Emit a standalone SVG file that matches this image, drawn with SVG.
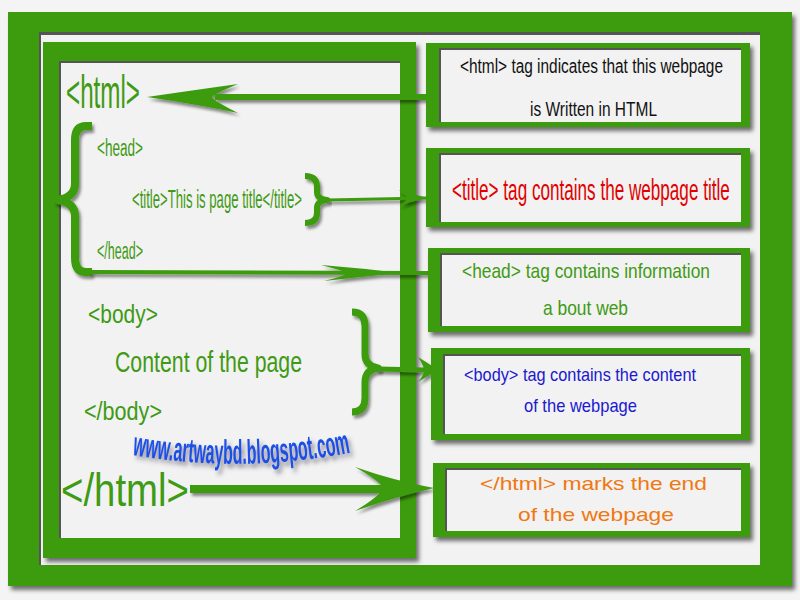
<svg xmlns="http://www.w3.org/2000/svg" width="800" height="600" viewBox="0 0 800 600">
<defs>
<filter id="sh" x="-10%" y="-10%" width="130%" height="130%"><feDropShadow dx="3" dy="4" stdDeviation="2" flood-color="#000" flood-opacity="0.55"/></filter>
<filter id="shs" x="-10%" y="-30%" width="130%" height="180%"><feDropShadow dx="2" dy="3" stdDeviation="1.5" flood-color="#000" flood-opacity="0.45"/></filter>
<filter id="wsh" x="-10%" y="-30%" width="130%" height="180%"><feDropShadow dx="3" dy="4" stdDeviation="2" flood-color="#445" flood-opacity="0.6"/></filter>
<path id="wm" d="M132,455 Q242,474 354,452"/>
</defs>
<style>
.g{fill:#3d9c0f}
.lt{fill:#f2f2f2}
.in{fill:#555}
.t{font-family:"Liberation Sans Narrow","Liberation Sans",Arial,sans-serif}
.tg{fill:#3f9a14}
.br{fill:none;stroke:#3d9c0f;stroke-linecap:butt;stroke-linejoin:round}
.ln{stroke:#3d9c0f;fill:none}
</style>
<rect width="800" height="600" fill="#f4f4f4"/>

<g id="frame">
<rect class="g" x="8" y="12" width="784" height="574" filter="url(#sh)"/>
<rect class="in" x="39" y="32" width="721" height="533"/>
<rect class="lt" x="41" y="35" width="719" height="530"/>
</g>

<g id="left-panel">
<rect class="g" x="43" y="42" width="373" height="516" filter="url(#sh)"/>
<rect class="in" x="59" y="61" width="341" height="477"/>
<rect class="lt" x="61" y="63" width="339" height="475"/>
<text class="t tg" x="66" y="108" font-size="46" textLength="74" lengthAdjust="spacingAndGlyphs">&lt;html&gt;</text>
<text class="t tg" x="97" y="156" font-size="23" textLength="46" lengthAdjust="spacingAndGlyphs">&lt;head&gt;</text>
<text class="t tg" x="132" y="208" font-size="25" textLength="170" lengthAdjust="spacingAndGlyphs">&lt;title&gt;This is page title&lt;/title&gt;</text>
<text class="t tg" x="97" y="259" font-size="23" textLength="46" lengthAdjust="spacingAndGlyphs">&lt;/head&gt;</text>
<text class="t tg" x="88" y="323" font-size="25" textLength="70" lengthAdjust="spacingAndGlyphs">&lt;body&gt;</text>
<text class="t tg" x="115" y="372" font-size="29" textLength="187" lengthAdjust="spacingAndGlyphs">Content of the page</text>
<text class="t tg" x="84" y="420" font-size="25" textLength="78" lengthAdjust="spacingAndGlyphs">&lt;/body&gt;</text>
<text class="t tg" x="61" y="506" font-size="46" textLength="128" lengthAdjust="spacingAndGlyphs">&lt;/html&gt;</text>
<text class="t" font-size="34" font-weight="bold" fill="#1a4fe6" filter="url(#wsh)"><textPath href="#wm" textLength="220" lengthAdjust="spacingAndGlyphs">www.artwaybd.blogspot.com</textPath></text>
</g>

<g id="connectors">
<path class="br" stroke-width="8" d="M92,126 L86,126 Q75,126 75,140 L75,184 Q75,197 58,200 Q75,203 75,216 L75,258 Q75,272 86,272 L92,272" filter="url(#shs)"/>
<path class="br" stroke-width="6" d="M305,176 Q317,176 317,187 L317,192 Q317,199 327,200 Q317,201 317,208 L317,213 Q317,223 305,223" filter="url(#shs)"/>
<path class="br" stroke-width="7" d="M352,312 Q365,312 365,326 L365,354 Q365,366 378,368 Q365,370 365,382 L365,398 Q365,412 352,412" filter="url(#shs)"/>
<g filter="url(#shs)">
<line class="ln" x1="215" y1="97" x2="430" y2="97" stroke-width="6"/>
<path class="g" d="M147,97 Q195,90 238,84 Q214,94 212,97 Q214,101 238,113 Q195,104 147,97 Z"/>
<line class="ln" x1="90" y1="272" x2="428" y2="273" stroke-width="4"/>
<path class="g" d="M400,273 Q360,268 321,265 Q344,271 348,273 Q344,276 324,281 Q360,277 400,273 Z"/>
<line class="ln" x1="327" y1="200" x2="428" y2="198" stroke-width="3"/>
<path class="g" d="M428,198 Q412,194 399,190 Q407,196 407,198 Q407,201 399,206 Q412,201 428,198 Z"/>
<line class="ln" x1="377" y1="369" x2="425" y2="370" stroke-width="5"/>
<path class="g" d="M438,370 Q428,363 418,357 Q424,366 424,370 Q424,375 418,382 Q428,376 438,370 Z"/>
<line class="ln" x1="190" y1="489" x2="392" y2="489" stroke-width="8"/>
<path class="g" d="M434,488 Q395,481 355,467 Q380,481 383,488 Q380,496 355,511 Q395,497 434,488 Z"/>
</g>
</g>

<g id="box-html">
<rect class="g" x="426" y="43" width="324" height="84" filter="url(#sh)"/>
<rect class="in" x="439" y="48" width="302" height="74"/>
<rect class="lt" x="441" y="50" width="300" height="72"/>
<text class="t" x="460" y="73" font-size="20" fill="#111" textLength="263" lengthAdjust="spacingAndGlyphs">&lt;html&gt; tag indicates that this webpage</text>
<text class="t" x="530" y="116" font-size="20" fill="#111" textLength="127" lengthAdjust="spacingAndGlyphs">is Written in HTML</text>
</g>

<g id="box-title">
<rect class="g" x="426" y="148" width="324" height="79" filter="url(#sh)"/>
<rect class="in" x="439" y="153" width="302" height="69"/>
<rect class="lt" x="441" y="155" width="300" height="67"/>
<text class="t" transform="translate(452,200) scale(0.6,1)" x="0" y="0" font-size="29" fill="#e00000" textLength="463" lengthAdjust="spacingAndGlyphs">&lt;title&gt; tag contains the webpage title</text>
</g>

<g id="box-head">
<rect class="g" x="428" y="248" width="322" height="84" filter="url(#sh)"/>
<rect class="in" x="440" y="253" width="301" height="73"/>
<rect class="lt" x="442" y="255" width="299" height="71"/>
<text class="t tg" x="462" y="278" font-size="21" textLength="248" lengthAdjust="spacingAndGlyphs">&lt;head&gt; tag contains information</text>
<text class="t tg" x="543" y="315" font-size="21" textLength="85" lengthAdjust="spacingAndGlyphs">a bout web</text>
</g>

<g id="box-body">
<rect class="g" x="431" y="348" width="319" height="92" filter="url(#sh)"/>
<rect class="in" x="443" y="354" width="298" height="80"/>
<rect class="lt" x="445" y="356" width="296" height="78"/>
<text class="t" x="464" y="381" font-size="19" fill="#2018d0" textLength="232" lengthAdjust="spacingAndGlyphs">&lt;body&gt; tag contains the content</text>
<text class="t" x="524" y="412" font-size="19" fill="#2018d0" textLength="113" lengthAdjust="spacingAndGlyphs">of the webpage</text>
</g>

<g id="box-end">
<rect class="g" x="433" y="463" width="317" height="74" filter="url(#sh)"/>
<rect class="in" x="445" y="468" width="296" height="63"/>
<rect class="lt" x="447" y="470" width="294" height="61"/>
<text x="480" y="490" font-family="Liberation Sans, Arial, sans-serif" font-size="19" fill="#f07810" textLength="227" lengthAdjust="spacingAndGlyphs">&lt;/html&gt; marks the end</text>
<text x="518" y="521" font-family="Liberation Sans, Arial, sans-serif" font-size="19" fill="#f07810" textLength="156" lengthAdjust="spacingAndGlyphs">of the webpage</text>
</g>
</svg>
